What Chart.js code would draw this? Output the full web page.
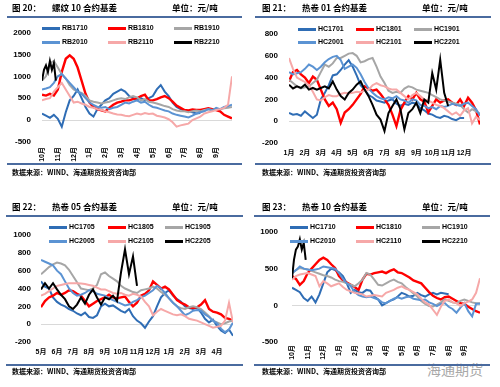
<!DOCTYPE html>
<html>
<head>
<meta charset="utf-8">
<script src="https://cdn.jsdelivr.net/npm/chart.js@4.4.1/dist/chart.umd.min.js"></script>
<style>
  body { margin: 0; width: 500px; height: 387px; background: #fff; position: relative; overflow: hidden; }
  .panel { position: absolute; width: 250px; height: 193px; }
  .panel canvas { position: absolute; left: 0; top: 0; }
  .t { position: absolute; font-family: "Noto Sans CJK SC", sans-serif; font-weight: 700; font-size: 8.5px; line-height: 1; white-space: nowrap; color: #000; }
  .src { position: absolute; font-family: "Noto Sans CJK SC", sans-serif; font-weight: 700; font-size: 7px; line-height: 1; white-space: nowrap; color: #000; }
  .rule { position: absolute; height: 2px; background: #4A6B9F; }
  .sw { position: absolute; width: 18px; height: 3px; }
  .lg { position: absolute; font: bold 7px "Liberation Sans", Arial, sans-serif; line-height: 1; white-space: nowrap; color: #000; }
  .wm { position: absolute; left: 427px; top: 359px; font-family: "Noto Sans CJK SC", sans-serif; font-size: 14px; color: #a8a8a8; white-space: nowrap; }
</style>
</head>
<body>
<div class="wm">海通期货</div>
<script>
// 螺纹 10 合约 (10月 -> 9月), 每 1/4 月一个点
const monthsRb = ['10月', '11月', '12月', '1月', '2月', '3月', '4月', '5月', '6月', '7月', '8月', '9月'];
const namesRb = ['RB1710', 'RB1810', 'RB1910', 'RB2010', 'RB2110', 'RB2210'];
const rb1710 = [150, 100, 50, 120, 30, -150, 180, 450, 550, 700, 500, 300, 150, 80, 250, 350, 450, 500, 600, 650, 700, 650, 550, 500, 450, 500, 450, 500, 550, 700, 800, 650, 550, 400, 300, 250, 220, 200, 180, 150, 160];
const rb1810 = [580, 560, 600, 560, 700, 1100, 1400, 1480, 1400, 1200, 900, 600, 400, 300, 250, 220, 200, 280, 350, 400, 420, 450, 450, 480, 500, 550, 580, 450, 450, 480, 520, 550, 500, 420, 330, 280, 230, 220, 240, 230, 230, 250, 270, 250, 230, 200, 120, 80, 40];
const rb1910 = [900, 1000, 1300, 1350, 1200, 1050, 950, 800, 700, 650, 620, 550, 450, 420, 400, 380, 400, 420, 450, 480, 500, 480, 520, 550, 520, 450, 480, 420, 400, 380, 350, 320, 300, 250, 220, 200, 200, 180, 200, 220, 200, 230, 250, 230, 260, 250, 270, 280, 300];
const rb2010 = [700, 720, 750, 850, 1000, 1050, 950, 850, 750, 650, 600, 500, 400, 350, 300, 280, 300, 250, 280, 300, 350, 400, 380, 420, 450, 400, 420, 350, 300, 280, 250, 220, 200, 150, 120, 100, 80, 60, 100, 150, 180, 200, 250, 220, 280, 250, 300, 320, 350];
const rb2110 = [450, 480, 500, 650, 750, 850, 700, 550, 400, 420, 380, 350, 300, 280, 250, 230, 200, 180, 150, 130, 120, 100, 90, 120, 150, 130, 160, 140, 150, 100, 80, 60, 20, -50, -150, -120, -100, -80, 0, 40, 80, 150, 180, 200, 230, 250, 280, 350, 1000];
const rb2210 = [900, 1150, 1250, 1100, 1350, 1150, 1300, 900]; // 每 1/8 月

// 热卷 01 合约 (1月 -> 12月)
const monthsHc01 = ['1月', '2月', '3月', '4月', '5月', '6月', '7月', '8月', '9月', '10月', '11月', '12月'];
const namesHc01 = ['HC1701', 'HC1801', 'HC1901', 'HC2001', 'HC2101', 'HC2201'];
const hc1701 = [75, 60, 65, 50, 90, 60, 30, 60, 200, 260, 330, 420, 430, 470, 520, 560, 500, 420, 330, 290, 240, 220, 190, 180, 170, 190, 200, 160, 140, 160, 150, 170, 160, 120, 100, 70, 60, 40, 30, 50, 40, 20, 10, 30, 30];
const hc1801 = [365, 450, 470, 430, 400, 350, 410, 380, 290, 200, 140, 170, 110, -15, 80, 110, 150, 200, 250, 320, 300, 280, 290, 250, 200, 150, 60, -45, 100, 170, 230, 200, 260, 200, 180, 80, 140, 200, 170, 190, 200, 170, 150, 200, 140, 215, 170, 100, -30];
const hc1901 = [380, 350, 320, 300, 310, 320, 350, 380, 450, 520, 500, 530, 580, 580, 600, 620, 625, 600, 540, 550, 570, 580, 500, 410, 350, 280, 260, 270, 260, 300, 320, 310, 290, 280, 270, 260, 240, 220, 200, 190, 180, 170, 160, 150, 110, 80, 110, 90, 70];
const hc2001 = [450, 430, 440, 450, 480, 520, 500, 470, 500, 540, 570, 590, 600, 560, 480, 500, 520, 490, 430, 360, 300, 260, 230, 210, 200, 220, 210, 230, 200, 190, 170, 200, 190, 150, 140, 120, 130, 110, 140, 130, 140, 160, 150, 140, 160, 170, 140, 110, 50];
const hc2101 = [580, 480, 400, 380, 360, 330, 270, 200, 190, 220, 240, 230, 230, 250, 260, 255, 260, 270, 265, 280, 290, 330, 350, 330, 320, 300, 290, 290, 260, 230, 200, 240, 260, 230, 200, 190, 170, 150, 140, 120, 90, 60, 80, 50, 100, 120, -20, 40, 10];
const hc2201 = [335, 300, 320, 305, 335, 290, 305, 290, 305, 320, 300, 365, 290, 230, 200, 260, 290, 335, 365, 290, 230, 150, 60, 15, -90, 75, 140, 200, 110, -75, 75, 110, 170, 75, 200, 170, 440, 290, 565, 260, 140];

// 热卷 05 合约 (5月 -> 4月)
const monthsHc05 = ['5月', '6月', '7月', '8月', '9月', '10月', '11月', '12月', '1月', '2月', '3月', '4月'];
const namesHc05 = ['HC1705', 'HC1805', 'HC1905', 'HC2005', 'HC2105', 'HC2205'];
const hc1705 = [480, 420, 400, 300, 250, 220, 200, 170, 150, 120, 100, 130, 80, 70, 100, 200, 230, 200, 210, 180, 150, 130, 170, 90, 40, 10, -40, 30, 90, 200, 300, 350, 380, 320, 280, 250, 200, 180, 170, 190, 130, 60, 20, 50, -20, -70, -100, -60, -130];
const hc1805 = [190, 260, 300, 320, 350, 330, 350, 380, 370, 340, 320, 260, 200, 230, 260, 280, 300, 330, 300, 290, 300, 310, 250, 200, 240, 320, 340, 380, 480, 440, 400, 420, 390, 330, 270, 240, 220, 190, 180, 190, 220, 270, 170, 140, 130, 110, 70, 60, 40];
const hc1905 = [560, 600, 640, 670, 690, 680, 660, 610, 540, 470, 400, 390, 380, 400, 440, 560, 580, 540, 510, 480, 430, 400, 380, 360, 350, 380, 390, 400, 420, 400, 360, 330, 290, 240, 200, 180, 170, 190, 200, 190, 170, 130, 90, 40, 20, 0, 10, 30, 40];
const hc2005 = [720, 700, 680, 660, 600, 560, 480, 400, 350, 320, 330, 350, 380, 370, 340, 330, 320, 290, 270, 250, 230, 210, 220, 250, 270, 300, 320, 350, 380, 430, 400, 350, 290, 240, 200, 150, 100, 120, 150, 160, 150, 110, 80, 40, 10, -50, -90, -60, 20];
const hc2105 = [320, 340, 370, 400, 430, 440, 450, 460, 460, 460, 455, 450, 440, 430, 410, 390, 390, 370, 350, 340, 350, 330, 320, 340, 330, 310, 250, 200, 100, 140, 170, 150, 130, 110, 100, 110, 90, 60, 50, 40, 20, 0, -20, -40, -30, -20, 40, 240, 20];
const hc2205 = [390, 460, 400, 460, 390, 330, 280, 200, 170, 220, 300, 230, 330, 390, 300, 220, 300, 280, 320, 260, 580, 840, 560, 760, 430];

// 热卷 10 合约 (10月 -> 9月)
const monthsHc10 = monthsRb;
const namesHc10 = ['HC1710', 'HC1810', 'HC1910', 'HC2010', 'HC2110', 'HC2210'];
const hc1710 = [240, 210, 180, 100, 60, 120, 40, 150, 300, 450, 500, 480, 450, 400, 300, 170, 210, 180, 170, 210, 200, 120, 80, 0, 30, 60, 80, 120, 170, 150, 120, 130, 170, 140, 120, 150, 170, 150, 170, 160, 150];
const hc1810 = [400, 360, 280, 330, 440, 500, 560, 620, 650, 620, 560, 510, 400, 340, 310, 280, 250, 210, 350, 430, 420, 440, 450, 460, 440, 470, 490, 450, 440, 410, 380, 340, 320, 300, 240, 180, 130, 100, 80, 110, 120, 90, 60, 30, 20, -20, -50, -80, -100];
const hc1910 = [430, 480, 510, 500, 490, 470, 450, 430, 410, 400, 380, 350, 330, 320, 300, 280, 260, 300, 350, 440, 420, 350, 280, 270, 300, 330, 350, 320, 300, 250, 210, 160, 120, 60, 20, -10, -15, 10, 40, 80, 60, 40, 30, 60, 80, 60, 40, 30, 30];
const hc2010 = [440, 480, 530, 500, 490, 480, 490, 500, 530, 520, 510, 500, 440, 360, 300, 260, 180, 140, 120, 110, 120, 100, 80, 40, 30, 60, 90, 110, 90, 110, 120, 90, 80, 70, 80, 40, 20, -10, 20, 30, -20, -50, -100, -30, 30, -80, -150, 20, 20];
const hc2110 = [350, 400, 420, 430, 440, 420, 400, 260, 330, 300, 260, 280, 300, 250, 210, 190, 170, 160, 150, 120, 130, 140, 130, 120, 170, 190, 210, 240, 260, 230, 210, 180, 150, 90, 40, 10, -60, -130, -20, 60, 80, 40, 30, -10, 30, 50, 80, 170, 370];
const hc2210 = [370, 620, 760, 800, 900, 760, 850, 620]; // 每 1/8 月

const colors = ['#2F6DB5', '#FF0000', '#A6A6A6', '#5B93D3', '#F6A8A8', '#000000'];
const STEP = 0.25;

const panels = [
  { pos: [0, 0], fig: '图 20：', name: '螺纹 10 合约基差', months: monthsRb, names: namesRb,
    series: [rb1710, rb1810, rb1910, rb2010, rb2110, rb2210], fine: true, y: [-500, 2000, 500], rotate: true,
    area: [42, 232, 32.5, 142], yPad: 11, xPad: 5, titleY: 8, ruleY: [16, 163], ruleX: [7, 242], srcY: 173,
    lgY: [28, 42], lgX: [42, 108, 174] },
  { pos: [250, 0], fig: '图 21：', name: '热卷 01 合约基差', months: monthsHc01, names: namesHc01,
    series: [hc1701, hc1801, hc1901, hc2001, hc2101, hc2201], fine: false, y: [-200, 800, 200], rotate: false,
    area: [39, 230, 34, 143], yPad: 11, xPad: 6, titleY: 8, ruleY: [16, 163], ruleX: [5, 241], srcY: 173,
    lgY: [29, 42], lgX: [48, 106, 164] },
  { pos: [0, 193], fig: '图 22：', name: '热卷 05 合约基差', months: monthsHc05, names: namesHc05,
    series: [hc1705, hc1805, hc1905, hc2005, hc2105, hc2205], fine: false, y: [-200, 1000, 200], rotate: false,
    area: [41, 233, 42, 149], yPad: 10, xPad: 6, titleY: 14, ruleY: [22, 171], ruleX: [6, 243], srcY: 179,
    lgY: [34, 48], lgX: [49, 108, 165] },
  { pos: [250, 193], fig: '图 23：', name: '热卷 10 合约基差', months: monthsHc10, names: namesHc10,
    series: [hc1710, hc1810, hc1910, hc2010, hc2110, hc2210], fine: true, y: [-500, 1000, 500], rotate: true,
    area: [42, 230, 39, 149], yPad: 14, xPad: 3, titleY: 14, ruleY: [22, 171], ruleX: [4, 240], srcY: 179,
    lgY: [34, 48], lgX: [40, 106, 172] }
];

const tickFont = { family: "'Liberation Sans', 'Noto Sans CJK SC', sans-serif", size: 8, weight: 'bold' };

function put(box, cls, text, x, y) {
  const d = document.createElement('div');
  d.className = cls;
  if (text) d.textContent = text;
  d.style.left = x + 'px';
  d.style.top = y + 'px';
  box.appendChild(d);
  return d;
}

function buildPanel(p) {
  const box = document.createElement('div');
  box.className = 'panel';
  box.style.left = p.pos[0] + 'px';
  box.style.top = p.pos[1] + 'px';
  document.body.appendChild(box);

  const cv = document.createElement('canvas');
  cv.width = 250;
  cv.height = 193;
  box.appendChild(cv);

  // 标题 / 分隔线 / 来源
  put(box, 't', p.fig, 12, p.titleY - 5);
  put(box, 't', p.name, 52, p.titleY - 5);
  put(box, 't', '单位：元/吨', 172, p.titleY - 5);
  p.ruleY.forEach(ry => {
    const r = put(box, 'rule', '', p.ruleX[0], ry);
    r.style.width = (p.ruleX[1] - p.ruleX[0]) + 'px';
  });
  put(box, 'src', '数据来源：WIND、海通期货投资咨询部', 12, p.srcY - 4);

  // 图例 2 行 x 3 列
  p.names.forEach((n, k) => {
    const x = p.lgX[k % 3];
    const y = p.lgY[Math.floor(k / 3)];
    const s = put(box, 'sw', '', x, y - 1.5);
    s.style.background = colors[k];
    put(box, 'lg', n, x + 20, y - 4);
  });

  const [l, r, t, b] = p.area;
  const xH = 24;
  new Chart(cv, {
    type: 'line',
    data: {
      datasets: p.series.map((vals, k) => {
        const step = (p.fine && k === 5) ? STEP / 2 : STEP;
        return {
          label: p.names[k],
          data: vals.map((v, i) => ({ x: i * step, y: v })),
          borderColor: colors[k],
          borderWidth: k === 1 ? 2.4 : 2,
          pointRadius: 0,
          tension: 0,
          order: 5 - k
        };
      })
    },
    options: {
      responsive: false,
      animation: false,
      layout: { padding: { left: 0, right: 250 - r, top: t, bottom: 193 - b - xH } },
      plugins: { legend: { display: false }, tooltip: { enabled: false } },
      scales: {
        x: {
          type: 'linear', min: 0, max: 12,
          afterFit: s => { s.height = xH; },
          grid: { display: false, drawTicks: false },
          border: { display: false },
          ticks: {
            stepSize: 1, autoSkip: false,
            minRotation: p.rotate ? 90 : 0, maxRotation: p.rotate ? 90 : 0,
            padding: p.xPad, color: '#000', font: { ...tickFont, size: 7 },
            callback: v => p.months[v] || ''
          }
        },
        y: {
          min: p.y[0], max: p.y[1],
          afterFit: s => { s.width = l; },
          border: { display: false },
          grid: { drawTicks: false, color: c => c.tick.value === 0 ? '#D9D9D9' : 'rgba(0,0,0,0)' },
          ticks: { stepSize: p.y[2], padding: p.yPad, color: '#000', font: tickFont, callback: v => String(v) }
        }
      }
    }
  });
}

panels.forEach(buildPanel);
</script>
</body>
</html>
